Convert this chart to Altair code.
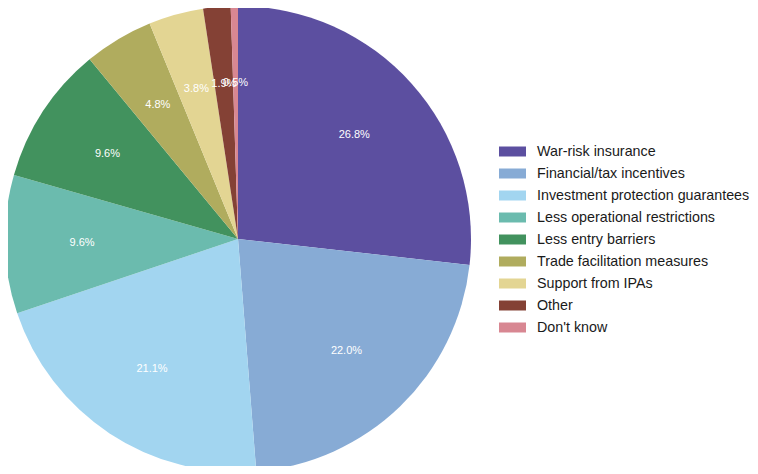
import altair as alt
import pandas as pd

categories = ["War-risk insurance", "Financial/tax incentives", "Investment protection guarantees",
              "Less operational restrictions", "Less entry barriers", "Trade facilitation measures",
              "Support from IPAs", "Other", "Don't know"]
values = [26.8, 22.0, 21.1, 9.6, 9.6, 4.8, 3.8, 1.9, 0.5]
colors = ["#5C4FA0", "#87ABD5", "#A2D5F0", "#6BBBAE", "#42925E", "#B0AC5E", "#E3D593", "#844135", "#D88792"]

df = pd.DataFrame({
    "cat": categories,
    "val": values,
    "idx": list(range(len(categories))),
    "label": [f"{v:.1f}%" for v in values],
})

cx, cy = 230, 231

base = alt.Chart(df).encode(
    theta=alt.Theta("val:Q", stack=True),
    order=alt.Order("idx:Q"),
)

arcs = base.mark_arc(radius=233).encode(
    x=alt.value(cx), y=alt.value(cy),
    color=alt.Color("cat:N", scale=alt.Scale(domain=categories, range=colors),
                    sort=categories,
                    legend=alt.Legend(title=None, orient="none", legendX=491, legendY=130,
                                      symbolType="M-1,-0.37H1V0.37H-1Z", symbolSize=729,
                                      symbolStrokeWidth=0, symbolOpacity=1,
                                      labelFont="Liberation Sans", labelFontSize=14.3,
                                      labelColor="#1a1a1a", rowPadding=1, labelOffset=11,
                                      labelLimit=300)),
)

texts = base.mark_text(radius=156, font="Liberation Sans", fontSize=11, color="white").encode(
    x=alt.value(cx), y=alt.value(cy),
    text="label:N",
)

chart = (arcs + texts).properties(
    width=742, height=458, padding=0,
    autosize=alt.AutoSizeParams(type="none"),
).configure_view(stroke=None)

chart.save("out.html", embed_options={"renderer": "svg", "actions": False})
